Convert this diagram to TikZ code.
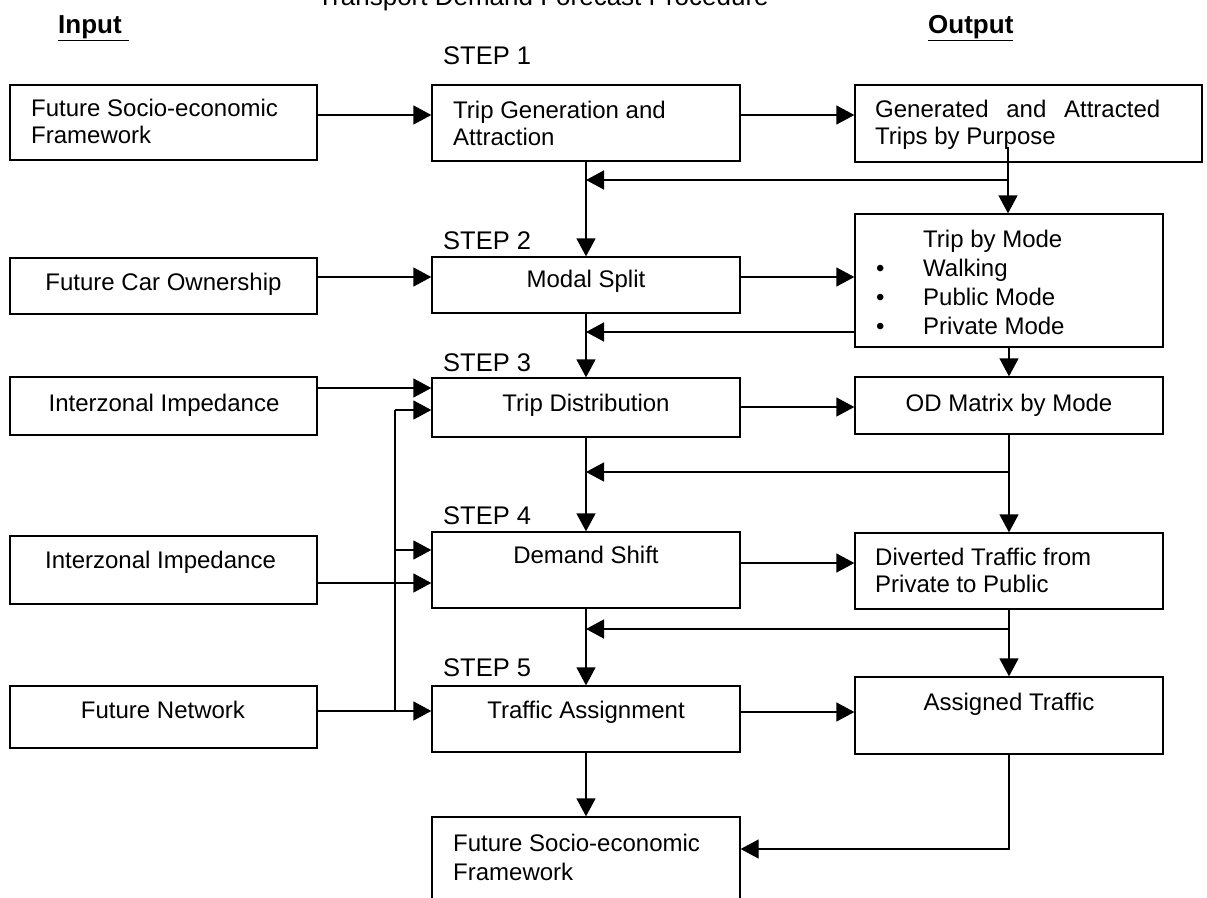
\documentclass[tikz,border=0pt]{standalone}
\usepackage{fontspec}
\setmainfont{Liberation Sans}
\usetikzlibrary{arrows.meta}
\begin{document}
\begin{tikzpicture}[x=1pt,y=-1pt,
  boxnode/.style={draw, line width=1.3pt, rectangle, inner sep=0pt, minimum width=308pt},
  lbl/.style={inner sep=0pt, font=\fontsize{24}{27}\selectfont},
  arr/.style={line width=1.3pt, -{Triangle[length=18pt,width=19pt]}},
  ln/.style={line width=1.3pt},
  steplbl/.style={inner sep=0pt, anchor=base west, font=\fontsize{25.5}{28}\selectfont},
  head/.style={inner sep=0pt, anchor=base west, font=\bfseries\fontsize{26}{30}\selectfont},
]
\useasboundingbox (0,0) rectangle (1207,897);

% headings
\node[inner sep=0pt, anchor=base, font=\fontsize{26}{30}\selectfont] (title) at (543,5) {Transport Demand Forecast Procedure};
\node[head] (inp) at (58,33) {\underline{Input\ }};
\node[head] (outp) at (928,33) {\underline{Output}};

% step labels
\node[steplbl] (s1) at (443,64) {STEP 1};
\node[steplbl] (s2) at (443,249) {STEP 2};
\node[steplbl] (s3) at (443,371) {STEP 3};
\node[steplbl] (s4) at (443,524) {STEP 4};
\node[steplbl] (s5) at (443,676) {STEP 5};

% input boxes
\node[boxnode, minimum width=307pt, minimum height=75pt] (L1) at (163.5,122.5) {};
\node[boxnode, minimum width=307pt, minimum height=56pt] (L2) at (163.5,286) {};
\node[boxnode, minimum width=307pt, minimum height=58pt] (L3) at (163.5,406) {};
\node[boxnode, minimum width=307pt, minimum height=68pt] (L4) at (163.5,570) {};
\node[boxnode, minimum width=307pt, minimum height=62pt] (L5) at (163.5,717) {};

% step boxes
\node[boxnode, minimum height=76pt] (M1) at (586,123) {};
\node[boxnode, minimum height=56pt] (M2) at (586,285) {};
\node[boxnode, minimum height=59pt] (M3) at (586,407.5) {};
\node[boxnode, minimum height=76pt] (M4) at (586,570) {};
\node[boxnode, minimum height=66pt] (M5) at (586,719) {};
\node[boxnode, minimum height=103pt] (M6) at (586,868.5) {};

% output boxes
\node[boxnode, minimum width=347pt, minimum height=77pt] (R1) at (1028.5,123.5) {};
\node[boxnode, minimum height=133pt] (R2) at (1009,280.5) {};
\node[boxnode, minimum height=57pt] (R3) at (1009,405.5) {};
\node[boxnode, minimum height=76pt] (R4) at (1009,571) {};
\node[boxnode, minimum height=77pt] (R5) at (1009,715.5) {};

% texts (multi-line nodes: base anchor = last line baseline)
\node[lbl, anchor=base west, align=left] (L1t) at (31,143) {Future Socio-economic\\Framework};
\node[lbl, anchor=base] (L2t) at (163.5,290) {Future Car Ownership};
\node[lbl, anchor=base] (L3t) at (164,411) {Interzonal Impedance};
\node[lbl, anchor=base] (L4t) at (160.5,568) {Interzonal Impedance};
\node[lbl, anchor=base] (L5t) at (163,718) {Future Network};

\node[lbl, anchor=base west, align=left] (M1t) at (453,145) {Trip Generation and\\Attraction};
\node[lbl, anchor=base] (M2t) at (586,287) {Modal Split};
\node[lbl, anchor=base] (M3t) at (586,411) {Trip Distribution};
\node[lbl, anchor=base] (M4t) at (586,563) {Demand Shift};
\node[lbl, anchor=base] (M5t) at (586,718) {Traffic Assignment};
\node[lbl, anchor=base west, align=left, font=\fontsize{24}{29}\selectfont] (M6t) at (453,880) {Future Socio-economic\\Framework};

\node[lbl, anchor=base west, align=left] (R1t) at (875,144) {\makebox[285pt][s]{Generated and Attracted}\\Trips by Purpose};
\node[lbl, anchor=base west, align=left, font=\fontsize{24}{29}\selectfont] (R2t) at (876,334) {\hspace*{47pt}Trip by Mode\\\makebox[47pt][l]{•}Walking\\\makebox[47pt][l]{•}Public Mode\\\makebox[47pt][l]{•}Private Mode};
\node[lbl, anchor=base] (R3t) at (1009,411) {OD Matrix by Mode};
\node[lbl, anchor=base west, align=left] (R4t) at (875,592) {Diverted Traffic from\\Private to Public};
\node[lbl, anchor=base] (R5t) at (1009,710) {Assigned Traffic};

% connector helper coordinates
\coordinate (f1s) at (1008,147);
\coordinate (f1j) at (1008,180);
\coordinate (nb) at (395,711);
\coordinate (nt) at (395,410);
\coordinate (nm) at (395,550);

% row 1
\draw[arr] (L1.east |- 0,115) -- (M1.west |- 0,115);
\draw[arr] (M1.east |- 0,115) -- (R1.west |- 0,115);
\draw[arr] (f1s) -- (f1s |- R2.north);
\draw[arr] (f1j) -- (M1.south |- f1j);
\draw[arr] (M1.south) -- (M2.north);

% row 2
\draw[arr] (L2.east |- 0,277) -- (M2.west |- 0,277);
\draw[arr] (M2.east |- 0,277) -- (R2.west |- 0,277);
\draw[arr] (R2.west |- 0,332) -- (M2.south |- 0,332);
\draw[arr] (M2.south) -- (M3.north);
\draw[arr] (R2.south) -- (R3.north);

% row 3
\draw[arr] (L3.east |- 0,388) -- (M3.west |- 0,388);
\draw[arr] (M3.east |- 0,407) -- (R3.west |- 0,407);
\draw[ln] (nb) -- (nt);
\draw[arr] (nt) -- (M3.west |- nt);
\draw[arr] (R3.south) -- (R4.north);
\draw[arr] (R3.south |- 0,472) -- (M3.south |- 0,472);
\draw[arr] (M3.south) -- (M4.north);

% row 4
\draw[arr] (nm) -- (M4.west |- nm);
\draw[arr] (L4.east |- 0,583) -- (M4.west |- 0,583);
\draw[arr] (M4.east |- 0,563) -- (R4.west |- 0,563);
\draw[arr] (R4.south) -- (R5.north);
\draw[arr] (R4.south |- 0,629) -- (M4.south |- 0,629);
\draw[arr] (M4.south) -- (M5.north);

% row 5
\draw[arr] (L5.east |- nb) -- (M5.west |- nb);
\draw[arr] (M5.east |- 0,712) -- (R5.west |- 0,712);
\draw[arr] (M5.south) -- (M6.north);
\draw[arr] (R5.south) |- (M6.east |- 0,849);
\end{tikzpicture}
\end{document}
